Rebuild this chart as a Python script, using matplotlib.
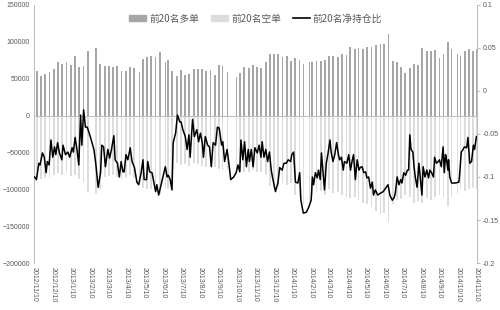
import numpy as np
import pandas as pd
import matplotlib
matplotlib.use("Agg")
import matplotlib.pyplot as plt
import matplotlib.dates as mdates
from matplotlib.patches import Patch
from matplotlib.lines import Line2D

plt.rcParams['font.family'] = ['Noto Sans CJK SC', 'DejaVu Sans']

# ---------------- data ----------------
start_date = "2012-11-10"
end_date = "2014-11-10"
first_monday = "2012-11-12"

# weekly positions of top-20 long (多单) and short (空单)
long_w = [60000, 54000, 56000, 59000, 63000, 72000, 70000, 72000, 69000, 81000,
          66000, 67500, 88000, np.nan, 91000, 70000, 67500, 67500, 66000, 67500,
          60000, 61000, 66000, 64000, 58500, 77000, 80000, 81000, 80000, 86000,
          72000, 76000, 61000, 53000, 62000, 55000, 56000, 63000, 63000, 63000,
          61000, 62000, 55000, 69000, 67000, 59000, 57000, 52000, 58000, 66000,
          65000, 69000, 66000, 64000, 73000, 83000, 83500, 83500, 80000, 81000,
          74500, 78000, 76000, 70000, 72000, 72000, 74500, 74500, 75000, 81000,
          81000, 79000, 83000, 82000, 92500, 90000, 91000, 90000, 92500, 92500,
          96000, 97000, 97000, 110000, 74500, 72000, 66000, 58000, 65000, 70000,
          68000, 92000, 88000, 87000, 89000, 78000, 84000, 100000, 90000, 83500,
          81000, 88000, 90000, 88000, 90000]
short_w = [-84000, -86000, -85000, -83000, -80000, -78000, -80000, -78000, -82000, -80000,
           -86000, -90000, -104000, np.nan, -106000, -100000, -84000, -82000, -80000, -84000,
           -86000, -85000, -80000, -85000, -90000, -98000, -100000, -100000, -103000, -106000,
           -98000, -100000, -95000, -64000, -67000, -66000, -68000, -64000, -66000, -68000,
           -70000, -68000, -70000, -72000, -74000, -73000, -74000, -75000, -75000, -76000,
           -76000, -74000, -77000, -76000, -80000, -96000, -98000, -96000, -92000, -94000,
           -92000, -108000, -110000, -120000, -125000, -108000, -104000, -102000, -108000, -100000,
           -105000, -104000, -108000, -110000, -112000, -110000, -114000, -118000, -120000, -124000,
           -130000, -134000, -132000, -145000, -120000, -115000, -113000, -108000, -110000, -118000,
           -116000, -118000, -112000, -115000, -110000, -108000, -110000, -122000, -110000, -105000,
           -100000, -102000, -100000, -98000, -100000]

# exchange holidays (no trading)
holidays = ["2013-01-01", "2013-01-02", "2013-01-03",
            "2013-02-11", "2013-02-12", "2013-02-13", "2013-02-14", "2013-02-15",
            "2013-04-04", "2013-04-05", "2013-04-29", "2013-04-30", "2013-05-01",
            "2013-06-10", "2013-06-11", "2013-06-12", "2013-09-19", "2013-09-20",
            "2013-10-01", "2013-10-02", "2013-10-03", "2013-10-04", "2013-10-07",
            "2014-01-01", "2014-01-31", "2014-02-03", "2014-02-04", "2014-02-05",
            "2014-02-06", "2014-04-07", "2014-05-01", "2014-05-02", "2014-06-02",
            "2014-09-08", "2014-10-01", "2014-10-02", "2014-10-03", "2014-10-06",
            "2014-10-07"]

# net position ratio (前20名净持仓比): day offset from start_date, value
line_day = [0, 3, 7, 9, 13, 16, 19, 21, 24, 27, 30, 33, 35, 38, 41, 45, 47, 51, 55, 58,
            62, 64, 67, 70, 73, 76, 78, 81, 84, 87, 92, 98, 101, 105, 109, 111, 114, 117, 121, 124,
            127, 131, 133, 137, 140, 143, 146, 148, 151, 154, 158, 161, 165, 169, 172, 176, 179, 181, 185, 187,
            190, 194, 197, 200, 202, 205, 208, 212, 216, 219, 221, 224, 227, 229, 233, 236, 240, 242, 245, 249,
            252, 255, 257, 261, 264, 268, 271, 274, 277, 279, 282, 286, 289, 292, 295, 299, 302, 305, 309, 311,
            314, 318, 321, 324, 329, 333, 336, 339, 341, 344, 347, 350, 353, 355, 358, 361, 364, 368, 371, 374,
            376, 379, 382, 385, 388, 391, 393, 398, 402, 405, 409, 412, 416, 419, 423, 425, 428, 431, 435, 438,
            440, 444, 449, 453, 457, 459, 461, 464, 467, 469, 472, 474, 477, 479, 482, 485, 488, 490, 493, 496,
            499, 502, 504, 507, 510, 512, 516, 519, 522, 525, 527, 530, 533, 536, 538, 541, 544, 547, 549, 552,
            555, 558, 560, 563, 567, 571, 576, 580, 584, 587, 591, 594, 596, 599, 602, 605, 607, 610, 613, 616,
            618, 620, 622, 625, 627, 629, 632, 635, 638, 640, 642, 645, 648, 651, 653, 656, 659, 661, 664, 667,
            669, 672, 675, 677, 679, 680, 683, 684, 686, 689, 695, 701, 702, 705, 708, 710, 714, 716, 719, 722,
            725, 727, 730]
line_val = [-0.100, -0.103, -0.084, -0.086, -0.072, -0.077, -0.095, -0.082, -0.086, -0.057,
            -0.077, -0.065, -0.074, -0.060, -0.072, -0.080, -0.063, -0.074, -0.071, -0.077,
            -0.066, -0.071, -0.054, -0.068, -0.086, -0.028, -0.063, -0.022, -0.042, -0.042,
            -0.053, -0.068, -0.084, -0.112, -0.095, -0.063, -0.065, -0.088, -0.068, -0.078,
            -0.068, -0.052, -0.080, -0.084, -0.100, -0.082, -0.094, -0.094, -0.074, -0.080,
            -0.066, -0.082, -0.089, -0.106, -0.109, -0.095, -0.080, -0.103, -0.103, -0.082,
            -0.094, -0.095, -0.106, -0.117, -0.109, -0.121, -0.112, -0.100, -0.088, -0.100,
            -0.098, -0.103, -0.115, -0.060, -0.049, -0.028, -0.036, -0.036, -0.045, -0.053,
            -0.068, -0.051, -0.077, -0.033, -0.053, -0.045, -0.059, -0.049, -0.060, -0.077,
            -0.053, -0.063, -0.065, -0.088, -0.060, -0.063, -0.042, -0.043, -0.063, -0.059,
            -0.082, -0.068, -0.084, -0.103, -0.100, -0.095, -0.086, -0.094, -0.057, -0.080,
            -0.059, -0.088, -0.068, -0.082, -0.068, -0.088, -0.066, -0.072, -0.063, -0.077,
            -0.059, -0.077, -0.068, -0.082, -0.071, -0.092, -0.100, -0.117, -0.107, -0.089,
            -0.092, -0.084, -0.084, -0.080, -0.082, -0.074, -0.071, -0.106, -0.107, -0.095,
            -0.127, -0.142, -0.141, -0.135, -0.127, -0.100, -0.109, -0.095, -0.101, -0.092,
            -0.103, -0.072, -0.098, -0.115, -0.084, -0.072, -0.057, -0.071, -0.082, -0.074,
            -0.060, -0.074, -0.080, -0.077, -0.092, -0.082, -0.084, -0.074, -0.092, -0.080,
            -0.074, -0.103, -0.080, -0.092, -0.089, -0.088, -0.095, -0.094, -0.101, -0.100,
            -0.113, -0.106, -0.121, -0.115, -0.121, -0.119, -0.117, -0.113, -0.109, -0.121,
            -0.127, -0.124, -0.119, -0.100, -0.109, -0.103, -0.107, -0.095, -0.098, -0.092,
            -0.092, -0.051, -0.068, -0.071, -0.088, -0.100, -0.112, -0.084, -0.106, -0.121,
            -0.088, -0.100, -0.092, -0.101, -0.092, -0.095, -0.100, -0.077, -0.084, -0.082,
            -0.080, -0.088, -0.065, -0.095, -0.074, -0.077, -0.092, -0.080, -0.100, -0.107,
            -0.107, -0.106, -0.100, -0.071, -0.068, -0.065, -0.066, -0.054, -0.084, -0.082,
            -0.063, -0.068, -0.053]

legend_labels = ["前20名多单", "前20名空单", "前20名净持仓比"]

# ---------------- styles ----------------
c_long = "#a6a6a6"
c_short = "#dcdcdc"
c_axis = "#bfbfbf"
c_text = "#595959"

fig = plt.figure(figsize=(5.0, 3.1), dpi=100)
ax1 = fig.add_axes([0.068, 0.1516, 0.886, 0.8323])
ax2 = ax1.twinx()

t0 = pd.Timestamp(start_date)
t_end = pd.Timestamp(end_date)
hol = set(pd.to_datetime(holidays))
mondays = pd.date_range(first_monday, periods=len(long_w), freq="7D")

for m, lv, sv in zip(mondays, long_w, short_w):
    days = [m + pd.Timedelta(days=i) for i in range(5)]
    days = [d for d in days if d not in hol and d <= t_end]
    if not days or np.isnan(lv):
        continue
    span = (days[-1] - days[0]).days + 1
    left = mdates.date2num(days[0]) + 0.15
    width = span * 0.62
    ax1.bar(left, lv, width=width, align="edge", color=c_long, linewidth=0, zorder=2)
    ax1.bar(left, sv, width=width, align="edge", color=c_short, linewidth=0, zorder=2)

ax1.axhline(0, color=c_axis, lw=0.8, zorder=3)

line_dates = t0 + pd.to_timedelta(line_day, unit="D")
ax2.plot(mdates.date2num(line_dates), line_val, color="black", lw=1.1, zorder=5)

# axes ranges
ax1.set_ylim(-200000, 150000)
ax1.set_yticks(np.arange(-200000, 150001, 50000))
ax2.set_ylim(-0.2, 0.1)
ax2.set_yticks([-0.2, -0.15, -0.1, -0.05, 0, 0.05, 0.1])
ax2.set_yticklabels(["-0.2", "-0.15", "-0.1", "-0.05", "0", "0.05", "0.1"])
ax1.set_xlim(mdates.date2num(t0) - 1, mdates.date2num(t_end) + 1)

ticks = pd.date_range("2012-11-01", end_date, freq="MS") + pd.Timedelta(days=9)
ticks = [t for t in ticks if t0 <= t <= t_end]
ax1.set_xticks(mdates.date2num(ticks))
ax1.set_xticklabels([f"{t.year}/{t.month}/{t.day}" for t in ticks],
                    rotation=-90, fontsize=5, color=c_text,
                    family=["Liberation Sans", "DejaVu Sans"])

for ax in (ax1, ax2):
    for s in ("top", "bottom"):
        ax.spines[s].set_visible(False)
    ax.spines["left"].set_color(c_axis)
    ax.spines["right"].set_color(c_axis)
    ax.spines["left"].set_linewidth(0.8)
    ax.spines["right"].set_linewidth(0.8)
    ax.tick_params(axis="y", labelsize=5, colors=c_text, length=0, pad=3)
    for lab in ax.get_yticklabels():
        lab.set_family(["Liberation Sans", "DejaVu Sans"])
        lab.set_color(c_text)
ax2.tick_params(axis="y", length=2, color=c_axis, pad=2)
ax1.tick_params(axis="x", length=0, pad=3)
ax2.spines["left"].set_visible(False)
ax1.spines["right"].set_visible(False)

handles = [Patch(color=c_long), Patch(color=c_short), Line2D([0], [0], color="black", lw=1.2)]
leg = ax1.legend(handles, legend_labels, loc="upper center", bbox_to_anchor=(0.5, 1.0),
                 ncol=3, frameon=False, fontsize=7, handlelength=1.8, handleheight=0.6,
                 columnspacing=1.2, handletextpad=0.3, labelcolor=c_text)

fig.savefig("out.png", dpi=100)
